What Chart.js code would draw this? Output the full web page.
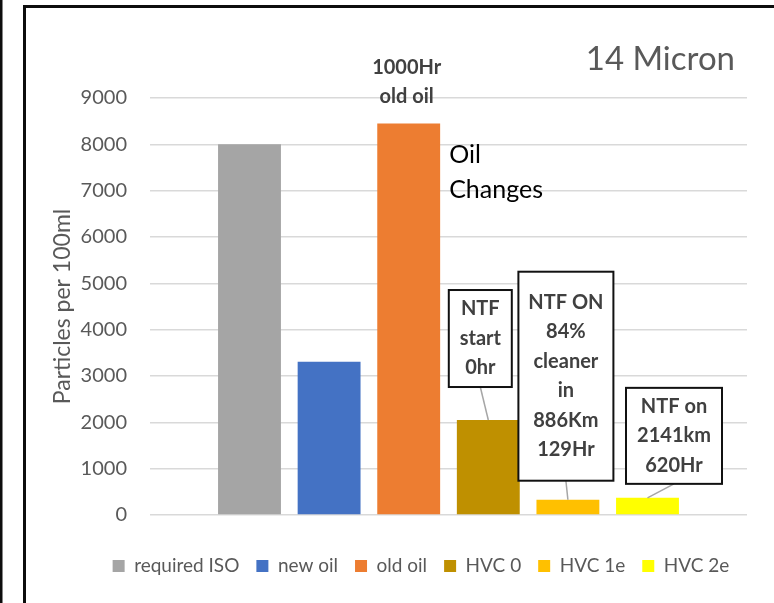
<!DOCTYPE html>
<html>
<head>
<meta charset="utf-8">
<title>14 Micron</title>
<script src="https://cdn.jsdelivr.net/npm/chart.js@4.4.1/dist/chart.umd.min.js"></script>
<style>
  html, body { margin: 0; padding: 0; background: #fff; }
  canvas { display: block; }
</style>
</head>
<body>
<canvas id="microChart" width="774" height="603"></canvas>
<script>
// Chart values
const categories = [''];
const seriesNames = ['required ISO', 'new oil', 'old oil', 'HVC 0', 'HVC 1e', 'HVC 2e'];
const particleCounts = [8000, 3310, 8450, 2050, 330, 370];
const seriesColors = ['#a5a5a5', '#4472c4', '#ed7d31', '#bf9000', '#ffc000', '#ffff00'];
const yTickMax = 9000;
const yTickStep = 1000;

const chartTitle = '14 Micron';
const axisTitle = 'Particles per 100ml';

const textGrey = '#595959';
const labelGrey = '#404040';

// Callout boxes pinned to the HVC bars
const callouts = [
    { dataset: 3, lines: ['NTF', 'start', '0hr'], dx: -8, boxWidth: 63, gap: 33, boxHeight: 97 },
    { dataset: 4, lines: ['NTF ON', '84%', 'cleaner', 'in', '886Km', '129Hr'], dx: -2, boxWidth: 95, gap: 19, boxHeight: 209 },
    { dataset: 5, lines: ['NTF on', '2141km', '620Hr'], dx: 26.5, boxWidth: 96, gap: 14, boxHeight: 96 }
];

// Draws the frame, the title and all the free text on the canvas
const notesPlugin = {
    id: 'notes',
    afterLayout(chart) {
        // the legend in the picture sits a little right of the plot centre
        chart.legend.left += 24;
        chart.legend.right += 24;
        chart.legend.top += 1.5;
        chart.legend.bottom += 1.5;
    },
    beforeDraw(chart) {
        const c = chart.ctx;
        c.save();
        c.fillStyle = '#0d0d0d';
        c.fillRect(0, 0, 2.5, chart.height);
        c.fillRect(23, 5, 3, chart.height - 5);
        c.fillRect(23, 5, chart.width - 23, 3);
        c.restore();
    },
    afterDatasetsDraw(chart) {
        const c = chart.ctx;
        const area = chart.chartArea;
        c.save();

        // chart title, top right
        c.font = '33px Lato';
        c.fillStyle = textGrey;
        c.textAlign = 'right';
        c.textBaseline = 'middle';
        c.fillText(chartTitle, area.right - 12, 59);

        // label above the old oil bar
        const oldBar = chart.getDatasetMeta(2).data[0];
        c.font = 'bold 20px Lato';
        c.fillStyle = labelGrey;
        c.textAlign = 'center';
        c.fillText('1000Hr', oldBar.x - 2, oldBar.y - 55.5);
        c.fillText('old oil', oldBar.x - 2, oldBar.y - 27);

        // Oil Changes note
        c.font = '25px Lato';
        c.fillStyle = '#000';
        c.textAlign = 'left';
        c.fillText('Oil', oldBar.x + oldBar.width / 2 + 9, oldBar.y + 31);
        c.fillText('Changes', oldBar.x + oldBar.width / 2 + 9, oldBar.y + 66);

        // callout boxes with leader lines
        callouts.forEach(note => {
            const bar = chart.getDatasetMeta(note.dataset).data[0];
            const cx = bar.x + note.dx;
            const bottom = bar.y - note.gap;
            const top = bottom - note.boxHeight;

            c.strokeStyle = '#a6a6a6';
            c.lineWidth = 1.5;
            c.beginPath();
            c.moveTo(cx, bottom);
            c.lineTo(bar.x, bar.y);
            c.stroke();

            c.fillStyle = '#fff';
            c.fillRect(cx - note.boxWidth / 2, top, note.boxWidth, note.boxHeight);
            c.strokeStyle = '#111';
            c.lineWidth = 2;
            c.strokeRect(cx - note.boxWidth / 2, top, note.boxWidth, note.boxHeight);

            c.font = 'bold 20px Lato';
            c.fillStyle = labelGrey;
            c.textAlign = 'center';
            c.textBaseline = 'middle';
            const step = 29.5;
            const mid = (top + bottom) / 2;
            const first = mid - step * (note.lines.length - 1) / 2;
            note.lines.forEach((line, i) => c.fillText(line, cx, first + i * step));
        });

        c.restore();
    }
};

const datasets = seriesNames.map((name, i) => ({
    label: name,
    data: [particleCounts[i]],
    backgroundColor: seriesColors[i],
    borderWidth: 0,
    barPercentage: 0.79,
    categoryPercentage: 0.8
}));

const ctx = document.getElementById('microChart').getContext('2d');
const chart = new Chart(ctx, {
    type: 'bar',
    data: {
        labels: categories,
        datasets: datasets
    },
    options: {
        responsive: false,
        animation: false,
        layout: {
            padding: { left: 47, right: 27, top: 98, bottom: 19 }
        },
        plugins: {
            legend: {
                position: 'bottom',
                labels: {
                    boxWidth: 12,
                    boxHeight: 12,
                    padding: 17,
                    color: textGrey,
                    font: { family: 'Lato', size: 19 }
                }
            },
            title: { display: false },
            tooltip: { enabled: false }
        },
        scales: {
            x: {
                ticks: { display: false },
                grid: { display: false, drawTicks: false },
                border: { display: false },
                afterFit(scale) { scale.height = 23; }
            },
            y: {
                min: 0,
                max: yTickMax,
                ticks: {
                    stepSize: yTickStep,
                    padding: 23,
                    color: textGrey,
                    font: { family: 'Lato', size: 20 },
                    callback: value => String(value)
                },
                grid: { color: '#d9d9d9', lineWidth: 1.5, drawTicks: false },
                border: { display: false },
                title: {
                    display: true,
                    text: axisTitle,
                    color: textGrey,
                    font: { family: 'Lato', size: 23 },
                    padding: { top: 2, bottom: 0 }
                },
                afterFit(scale) { scale.width = 103; }
            }
        }
    },
    plugins: [notesPlugin]
});
</script>
</body>
</html>
